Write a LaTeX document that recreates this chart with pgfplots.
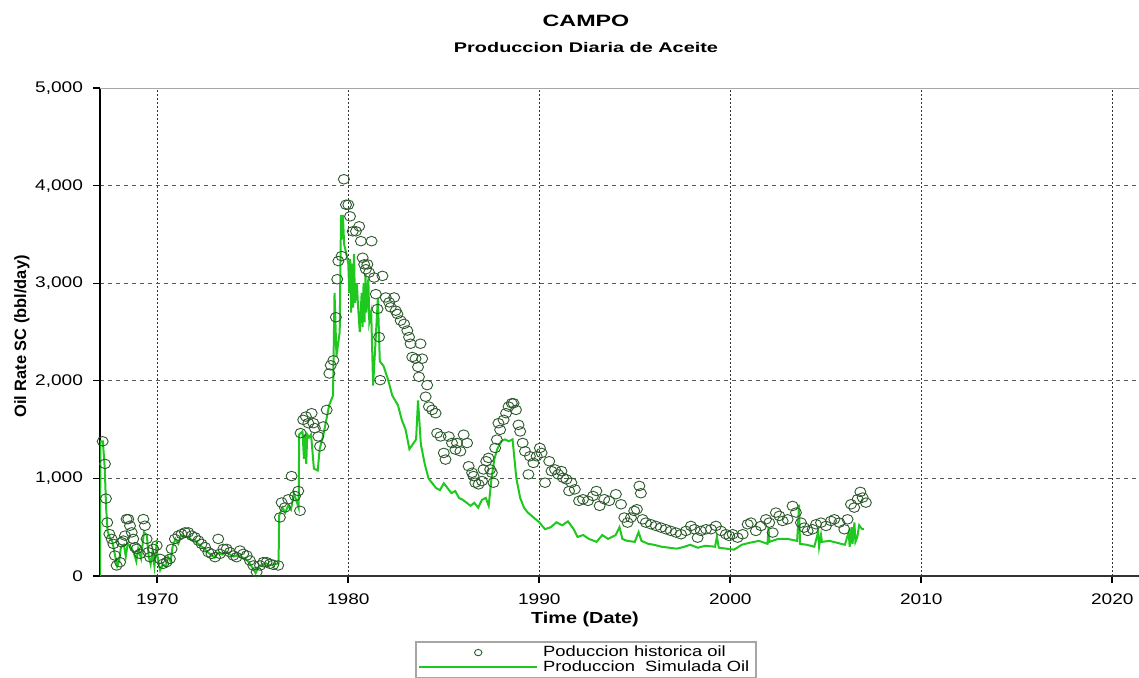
\documentclass[border=0pt]{standalone}
\usepackage{pgfplots}
\pgfplotsset{compat=1.18}
\usepackage{fontspec}
\setmainfont{Liberation Sans}[FakeStretch=1.24]
\newfontfamily\titlefont{Liberation Sans}[FakeStretch=1.42]
\newfontfamily\plainfont{Liberation Sans}
\definecolor{simgreen}{RGB}{30,200,30}
\definecolor{histcol}{RGB}{45,90,45}

\pgfplotsset{
  histleg/.style={legend image code/.code={\draw[mark repeat=2,mark phase=2,##1, mark size=1.6pt] plot coordinates {(0pt,0pt) (29.5pt,0pt) (59pt,0pt)};}},
  simleg/.style={legend image code/.code={\draw[##1] (0pt,0pt) -- (59pt,0pt);}},
}

\pgfplotstableread{
x y
1967.14 1380
1967.26 1149
1967.31 793
1967.38 549
1967.49 430
1967.61 380
1967.70 329
1967.78 210
1967.87 108
1968.05 142
1968.13 346
1968.22 363
1968.31 414
1968.39 583
1968.48 583
1968.57 515
1968.66 447
1968.74 380
1968.83 295
1968.92 278
1969.09 227
1969.27 583
1969.35 515
1969.44 380
1969.53 244
1969.62 193
1969.79 278
1969.97 312
1970.14 176
1970.31 125
1970.49 142
1970.66 176
1970.75 278
1970.92 380
1971.10 414
1971.27 430
1971.45 447
1971.62 447
1971.80 414
1971.97 397
1972.15 363
1972.32 329
1972.50 295
1972.67 244
1972.84 227
1973.02 193
1973.19 380
1973.28 227
1973.46 278
1973.63 278
1973.80 244
1973.98 210
1974.15 193
1974.33 261
1974.50 227
1974.68 210
1974.85 159
1975.03 108
1975.20 41
1975.38 108
1975.55 142
1975.72 142
1975.90 125
1976.07 115
1976.33 108
1976.42 600
1976.51 753
1976.68 702
1976.86 786
1977.03 1024
1977.21 820
1977.38 871
1977.47 668
1977.50 1464
1977.64 1600
1977.78 1634
1977.91 1566
1978.08 1668
1978.17 1566
1978.25 1515
1978.43 1430
1978.52 1329
1978.69 1532
1978.87 1702
1979.01 2075
1979.08 2159
1979.22 2210
1979.35 2651
1979.42 3041
1979.48 3227
1979.65 3278
1979.77 4065
1979.88 3804
1980.00 3804
1980.09 3685
1980.23 3532
1980.40 3532
1980.57 3583
1980.66 3431
1980.75 3261
1980.83 3193
1980.92 3143
1981.00 3193
1981.09 3109
1981.22 3431
1981.35 3058
1981.44 2888
1981.53 2736
1981.61 2448
1981.67 2007
1981.79 3075
1981.96 2854
1982.14 2804
1982.22 2753
1982.40 2854
1982.48 2719
1982.57 2685
1982.74 2617
1982.92 2583
1983.09 2515
1983.18 2448
1983.26 2380
1983.35 2244
1983.52 2227
1983.65 2142
1983.70 2041
1983.78 2380
1983.87 2227
1984.05 1837
1984.13 1956
1984.22 1736
1984.39 1702
1984.57 1668
1984.65 1464
1984.83 1430
1985.00 1261
1985.09 1193
1985.26 1430
1985.43 1363
1985.61 1295
1985.69 1363
1985.87 1278
1986.04 1448
1986.22 1363
1986.30 1125
1986.48 1058
1986.56 1024
1986.65 956
1986.82 939
1987.00 973
1987.08 1092
1987.22 1176
1987.34 1210
1987.43 1092
1987.52 1058
1987.60 956
1987.69 1312
1987.78 1397
1987.86 1566
1987.95 1498
1988.13 1600
1988.26 1668
1988.39 1736
1988.56 1770
1988.65 1770
1988.78 1702
1988.91 1549
1989.00 1481
1989.13 1363
1989.25 1278
1989.43 1041
1989.51 1227
1989.69 1159
1989.86 1227
1990.03 1312
1990.12 1261
1990.30 956
1990.52 1176
1990.64 1075
1990.82 1092
1990.99 1041
1991.16 1075
1991.25 1007
1991.42 990
1991.56 871
1991.68 956
1991.86 888
1992.08 770
1992.29 786
1992.55 770
1992.81 820
1992.99 871
1993.16 719
1993.40 787
1993.66 770
1994.01 838
1994.28 735
1994.45 599
1994.62 547
1994.80 599
1994.97 667
1995.11 684
1995.24 923
1995.32 848
1995.41 581
1995.58 547
1995.85 530
1996.11 513
1996.37 496
1996.63 479
1996.89 462
1997.16 445
1997.42 428
1997.68 462
1997.94 513
1998.12 479
1998.29 393
1998.46 462
1998.73 479
1998.99 479
1999.25 513
1999.51 462
1999.77 428
1999.95 410
2000.12 428
2000.38 393
2000.65 428
2000.91 530
2001.08 547
2001.34 462
2001.61 513
2001.87 581
2002.04 547
2002.22 445
2002.39 650
2002.57 616
2002.74 564
2003.00 581
2003.26 718
2003.44 650
2003.70 547
2003.87 496
2004.05 462
2004.31 479
2004.49 530
2004.75 547
2005.01 513
2005.27 564
2005.45 581
2005.71 547
2005.97 479
2006.14 581
2006.32 735
2006.49 701
2006.67 787
2006.81 862
2006.93 804
2007.10 752
}\histdata

\pgfplotstableread{
x y
1967.00 0
1967.02 1380
1967.15 1380
1967.25 1100
1967.32 700
1967.40 460
1967.50 400
1967.65 350
1967.80 200
1967.90 100
1968.00 150
1968.10 300
1968.25 320
1968.35 200
1968.45 330
1968.60 300
1968.75 250
1968.90 150
1969.00 280
1969.15 180
1969.30 450
1969.45 420
1969.55 200
1969.65 120
1969.75 250
1969.85 100
1969.95 300
1970.05 150
1970.15 60
1970.30 120
1970.45 100
1970.55 200
1970.70 150
1970.80 300
1970.95 380
1971.10 330
1971.25 420
1971.40 400
1971.60 400
1971.80 370
1972.00 360
1972.20 320
1972.40 290
1972.60 250
1972.80 220
1973.00 190
1973.20 240
1973.40 220
1973.60 250
1973.80 220
1974.00 200
1974.20 210
1974.40 190
1974.60 180
1974.80 140
1975.00 80
1975.15 30
1975.30 90
1975.50 120
1975.70 130
1975.90 110
1976.10 120
1976.35 130
1976.38 620
1976.55 700
1976.70 650
1976.85 720
1977.00 680
1977.15 850
1977.40 700
1977.43 1450
1977.60 1480
1977.68 1200
1977.72 1450
1977.80 1150
1977.85 1450
1977.95 1420
1978.05 1450
1978.20 1100
1978.40 1080
1978.50 1300
1978.70 1450
1978.85 1600
1979.00 1750
1979.20 1850
1979.28 2900
1979.38 2250
1979.55 2500
1979.62 3700
1979.68 3450
1979.72 3700
1979.78 3400
1979.90 3300
1980.00 3200
1980.05 2900
1980.10 3250
1980.15 2700
1980.20 3200
1980.25 2750
1980.30 3300
1980.35 2800
1980.45 3000
1980.50 2800
1980.60 2500
1980.70 2900
1980.75 2550
1980.80 3000
1980.85 2600
1980.90 3100
1980.95 2700
1981.05 3050
1981.10 2600
1981.20 2700
1981.30 1950
1981.55 2850
1981.65 2200
1981.85 2150
1982.10 2000
1982.30 1850
1982.60 1750
1982.80 1600
1983.00 1500
1983.20 1300
1983.55 1400
1983.65 1800
1983.80 1350
1984.00 1150
1984.20 1000
1984.40 950
1984.60 900
1984.80 880
1985.00 950
1985.20 900
1985.40 850
1985.60 870
1985.80 800
1986.00 780
1986.20 750
1986.40 720
1986.60 750
1986.80 700
1987.00 780
1987.20 800
1987.35 720
1987.50 1000
1987.65 1200
1987.80 1300
1988.00 1380
1988.20 1400
1988.40 1380
1988.60 1400
1988.80 1000
1989.00 800
1989.20 700
1989.40 650
1989.70 600
1990.00 550
1990.30 480
1990.60 500
1990.90 550
1991.20 520
1991.50 560
1991.80 480
1992.00 400
1992.30 420
1992.60 380
1993.00 350
1993.30 420
1993.60 380
1994.00 420
1994.20 500
1994.35 380
1994.60 360
1995.00 350
1995.20 450
1995.35 360
1995.70 330
1996.00 320
1996.40 300
1996.80 290
1997.20 280
1997.60 300
1997.90 320
1998.30 290
1998.70 310
1999.20 300
1999.30 400
1999.40 290
1999.80 280
2000.20 270
2000.60 320
2001.00 340
2001.50 360
2001.95 330
2002.00 500
2002.05 350
2002.50 380
2003.00 380
2003.50 360
2003.60 730
2003.65 330
2004.00 320
2004.40 300
2004.60 450
2004.65 300
2004.75 420
2004.80 350
2005.20 360
2005.60 340
2006.00 320
2006.20 450
2006.25 300
2006.35 500
2006.40 330
2006.50 550
2006.55 350
2006.65 400
2006.75 520
2006.90 480
2007.00 480
}\simdata

\begin{document}
\begin{tikzpicture}
\begin{axis}[
  scale only axis,
  width=519.5pt, height=244pt,
  xmin=1967, xmax=2021.4,
  ymin=0, ymax=5000,
  axis x line=bottom, axis y line=left,
  axis line style={-},
  x axis line style={line width=1pt, black!80},
  y axis line style={line width=1pt, black},
  xtick={1970,1980,...,2020},
  xticklabels={1970,1980,1990,2000,2010,2020},
  ytick={0,1000,...,5000},
  /pgf/number format/assume math mode=true,
  yticklabel={\pgfmathprintnumber[fixed,1000 sep={,}]{\tick}},
  tick label style={font=\fontsize{7.7}{9}\selectfont},
  xticklabel style={yshift=-2pt},
  yticklabel style={xshift=-1.5pt},
  tick align=outside,
  major tick length=3.5pt,
  xtick style={line width=1pt, black},
  ytick style={line width=0.6pt, black},
  xmajorgrids, ymajorgrids,
  major x grid style={black!80, line width=0.5pt, dash pattern=on 1pt off 1pt},
  major y grid style={black!65, line width=0.5pt, dash pattern=on 2pt off 2pt},
  legend style={at={(axis description cs:0.468,-0.133)}, anchor=north,
    draw=gray!70, line width=0.8pt, font=\fontsize{7.4}{8.5}\selectfont,
    inner xsep=1pt, inner ysep=1pt, row sep=-1.5pt,
    nodes={inner xsep=2.5pt, inner ysep=1pt}},
  legend cell align=left,
]
\draw[gray!70, line width=1pt] (rel axis cs:0,1) -- (rel axis cs:1,1);
\addplot[only marks, mark=o, mark size=2.4pt, histcol,
  mark options={xscale=1.15, line width=0.45pt}, histleg]
  table[x=x,y=y]{\histdata};
\addlegendentry{Poduccion historica oil}
\addplot[sharp plot, simgreen, line width=1pt, simleg]
  table[x=x,y=y]{\simdata};
\addlegendentry{Produccion\ \ Simulada Oil}
\end{axis}
\node[font=\titlefont\bfseries\fontsize{8.2}{10}\selectfont] at (243pt,277.5pt) {CAMPO};
\node[font=\titlefont\bfseries\fontsize{7}{9}\selectfont] at (243pt,264.5pt) {Produccion Diaria de Aceite};
\node[font=\bfseries\fontsize{8}{10}\selectfont] at (242.5pt,-21.75pt) {Time (Date)};
\node[font=\plainfont\bfseries\fontsize{8.2}{10}\selectfont, rotate=90] at (-39pt,119.75pt) {Oil Rate SC (bbl/day)};
\pgfresetboundingbox
\path (-50pt,-50.5pt) rectangle (519.5pt,288pt);
\end{tikzpicture}
\end{document}
